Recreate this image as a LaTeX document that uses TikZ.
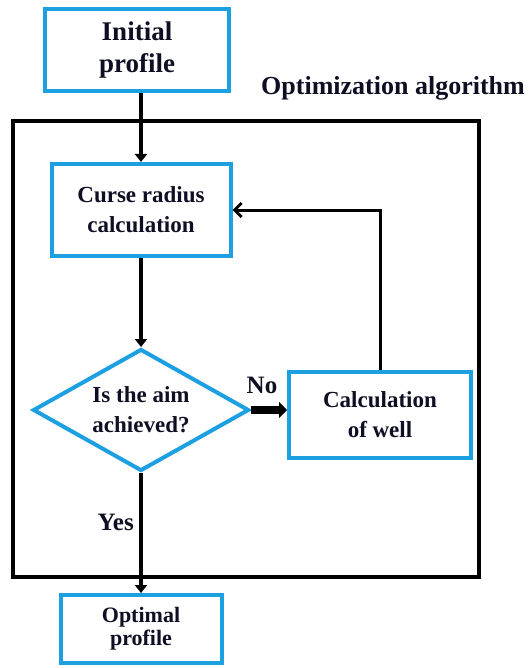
\documentclass[tikz,border=0pt]{standalone}
\usepackage{fontspec}
\newfontfamily\tnr{Liberation Serif}
\definecolor{boxblue}{RGB}{28,160,226}
\definecolor{ink}{RGB}{15,15,35}
\usetikzlibrary{arrows.meta,shapes.geometric}
\begin{document}
\begin{tikzpicture}[x=1pt,y=-1pt,
  bbox/.style={draw=boxblue, line width=4pt, fill=white, align=center, text=ink, inner sep=0pt,
    font=\tnr\bfseries\fontsize{23}{30}\selectfont},
  dbox/.style={shape=diamond, aspect=1.76, draw=boxblue, line width=4pt, fill=white, align=center, text=ink, inner sep=0pt,
    font=\tnr\bfseries\fontsize{23}{30}\selectfont},
  lab/.style={text=ink, inner sep=0pt, font=\tnr\bfseries\fontsize{25}{28}\selectfont},
  mainarrow/.style={line width=4pt, -{Triangle[length=8pt,width=12pt]}},
  noarrow/.style={line width=8pt, -{Triangle[length=8pt,width=16pt]}},
  fbarrow/.style={line width=3pt, -{Straight Barb[length=7pt,width=14pt,line width=3pt]}}
]
\useasboundingbox (0,0) rectangle (528,668);
% frame of the optimization algorithm
\node[draw, line width=4pt, minimum width=466pt, minimum height=456pt, inner sep=0pt] (frame) at (246,349) {};
\node[text=ink, inner sep=0pt, font=\tnr\bfseries\fontsize{26}{30}\selectfont] (title) at (393,88) {Optimization algorithm};
% boxes
\node[bbox, minimum width=184pt, minimum height=82pt, font=\tnr\bfseries\fontsize{27}{32}\selectfont] (init) at (137,50) {Initial\\profile};
\node[bbox, minimum width=179pt, minimum height=92pt] (curse) at (141,210) {Curse radius\\calculation};
\node[dbox, minimum width=216pt, minimum height=122pt] (dia) at (141,410) {Is the aim\\achieved?};
\node[bbox, minimum width=182pt, minimum height=86pt] (calc) at (380,415) {Calculation\\of well};
\node[bbox, minimum width=161pt, minimum height=68pt, font=\tnr\bfseries\fontsize{22}{23}\selectfont] (opt) at (141,629) {Optimal\\profile};
% labels
\node[lab] (no) at (262,385) {No};
\node[lab, anchor=east] (yes) at (134,522) {Yes};
% connectors
\draw[mainarrow] (init.south -| curse.north) -- (curse.north);
\draw[mainarrow] (curse.south) -- (dia.north);
\draw[mainarrow] (dia.south) -- (opt.north);
\draw[noarrow] (dia.east) -- (dia.east -| calc.west);
\draw[fbarrow] (calc.north) |- (curse.east);
\end{tikzpicture}
\end{document}
